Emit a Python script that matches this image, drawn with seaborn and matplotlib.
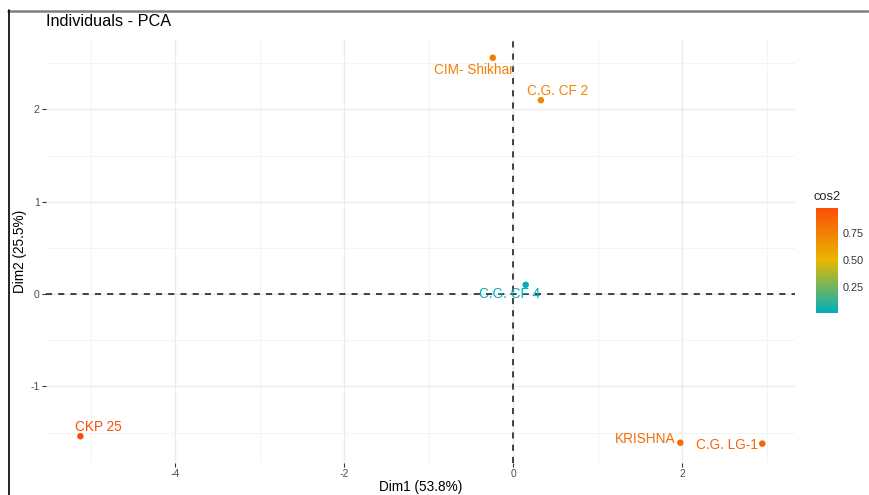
import numpy as np
import pandas as pd
import matplotlib
matplotlib.use("Agg")
import matplotlib.pyplot as plt
from matplotlib.colors import LinearSegmentedColormap, Normalize
from matplotlib.lines import Line2D
import seaborn as sns

# PCA individuals: coordinates on the first two dimensions and quality (cos2)
names = ["CIM- Shikhar", "C.G. CF 2", "C.G. CF 4", "KRISHNA", "C.G. LG-1", "CKP 25"]
dim1 = [-0.24, 0.33, 0.15, 1.98, 2.95, -5.12]
dim2 = [2.56, 2.10, 0.10, -1.61, -1.62, -1.54]
cos2 = [0.76, 0.72, 0.01, 0.84, 0.88, 0.98]

x_title = "Dim1 (53.8%)"
y_title = "Dim2 (25.5%)"
x_ticks = [-4, -2, 0, 2]
y_ticks = [-1, 0, 1, 2]
cbar_ticks = [0.25, 0.50, 0.75]

df = pd.DataFrame({"name": names, "Dim1": dim1, "Dim2": dim2, "cos2": cos2})

# label offsets in pixels (repel-style placement)
label_offsets = {
    "CIM- Shikhar": (-19, -12),
    "C.G. CF 2": (17, 9),
    "C.G. CF 4": (-16, -9),
    "KRISHNA": (-35, 4),
    "C.G. LG-1": (-35, -1),
    "CKP 25": (18, 9),
}

sns.set_theme(style="white")
plt.rcParams["font.family"] = ["Liberation Sans", "DejaVu Sans"]

cmap = LinearSegmentedColormap.from_list("cos2", ["#00AFBB", "#E7B800", "#FC4E07"])
norm = Normalize(vmin=0.01, vmax=0.98)

fig = plt.figure(figsize=(8.69, 4.95), dpi=100)
ax = fig.add_axes([46 / 869, 1 - 463 / 495, (795 - 46) / 869, (463 - 39) / 495])

ax.set_xlim(-5.527, 3.337)
ax.set_ylim(-1.83, 2.763)

# grid: major and minor lines like a minimal theme
ax.set_xticks(x_ticks)
ax.set_yticks(y_ticks)
ax.set_xticks([-5, -3, -1, 1, 3], minor=True)
ax.set_yticks([-1.5, -0.5, 0.5, 1.5, 2.5], minor=True)
ax.grid(which="major", color="#EBEBEB", linewidth=1.0)
ax.grid(which="minor", color="#F4F4F4", linewidth=0.8)
ax.set_axisbelow(True)
for s in ax.spines.values():
    s.set_visible(False)

ax.axhline(0, color="#111111", linestyle=(0, (4, 4)), linewidth=1.1, zorder=1)
ax.axvline(0, color="#111111", linestyle=(0, (4, 4)), linewidth=1.1, zorder=1)

sns.scatterplot(data=df, x="Dim1", y="Dim2", hue="cos2", palette=cmap,
                hue_norm=norm, s=22, linewidth=0, legend=False, ax=ax, zorder=3)

for n, xv, yv, cv in zip(names, dim1, dim2, cos2):
    dx, dy = label_offsets[n]
    ax.annotate(n, (xv, yv), xytext=(dx, dy), textcoords="offset pixels",
                ha="center", va="center", fontsize=9.8, color=cmap(norm(cv)),
                zorder=4)

ax.tick_params(axis="both", which="major", length=3, width=0.8, color="#333333",
               labelsize=7.5, labelcolor="#4D4D4D", pad=1.5,
               bottom=True, left=True)
ax.tick_params(axis="both", which="minor", length=0)
ax.set_xticklabels([str(t) for t in x_ticks])
ax.set_yticklabels([str(t) for t in y_ticks])
ax.set_xlabel(x_title, fontsize=9.8, color="black", labelpad=0.5)
ax.set_ylabel(y_title, fontsize=9.8, color="black", labelpad=2.5)

fig.text(46 / 869, 1 - 21 / 495, "Individuals - PCA", fontsize=11.7,
         ha="left", va="center", color="black")

# colour bar legend
cax = fig.add_axes([816 / 869, 1 - 313 / 495, 22 / 869, 105 / 495])
sm = plt.cm.ScalarMappable(norm=norm, cmap=cmap)
cb = fig.colorbar(sm, cax=cax, ticks=cbar_ticks)
cb.outline.set_visible(False)
cb.ax.set_yticklabels([f"{t:.2f}" for t in cbar_ticks])
cb.ax.tick_params(length=4, width=0.6, color="white", direction="in",
                  labelsize=7.8, labelcolor="#333333", pad=3)
fig.text(827 / 869, 1 - 197 / 495, "cos2", fontsize=9.3, ha="center", va="center")

# frame edges of the captured region
fig.add_artist(Line2D([8 / 869, 868 / 869], [1 - 10.5 / 495, 1 - 10.5 / 495],
                      transform=fig.transFigure, color="#7F7F7F", linewidth=1.8))
fig.add_artist(Line2D([8.5 / 869, 8.5 / 869], [0, 1 - 10 / 495],
                      transform=fig.transFigure, color="black", linewidth=1.2))

fig.savefig("out.png", dpi=100)
